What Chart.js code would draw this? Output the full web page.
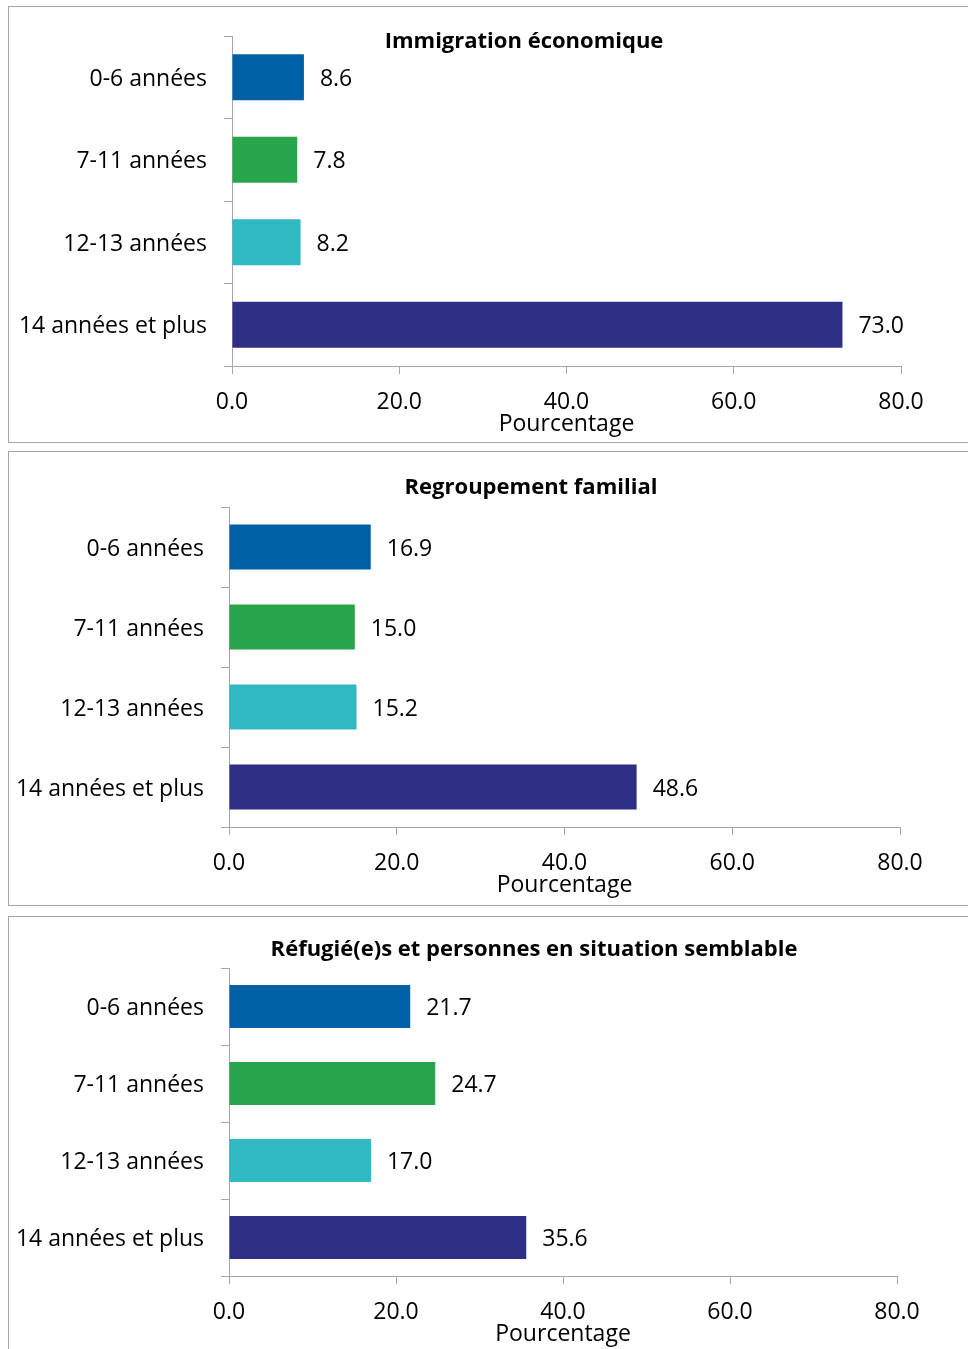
<!DOCTYPE html>
<html>
<head>
<meta charset="utf-8">
<script src="https://cdn.jsdelivr.net/npm/chart.js@4.4.1/dist/chart.umd.min.js"></script>
<style>
html, body { margin: 0; padding: 0; background: #fff; overflow: hidden; }
body { position: relative; width: 968px; height: 1349px; }
.panel { position: absolute; left: 8px; width: 1100px; border: 1.5px solid #a6a6a6; box-sizing: border-box; }
canvas { position: absolute; left: 0; }
</style>
</head>
<body>
<div class="panel" style="top:6px;height:437px"></div>
<div class="panel" style="top:451px;height:455px"></div>
<div class="panel" style="top:916px;height:500px"></div>
<canvas id="c1" width="1040" height="445" style="top:0px"></canvas>
<canvas id="c2" width="1040" height="460" style="top:445px"></canvas>
<canvas id="c3" width="1040" height="444" style="top:905px"></canvas>
<script>
// data
const categories = ['0-6 années', '7-11 années', '12-13 années', '14 années et plus'];
const economique = [8.6, 7.8, 8.2, 73.0];
const familial = [16.9, 15.0, 15.2, 48.6];
const refugies = [21.7, 24.7, 17.0, 35.6];
const xTicks = [0, 20, 40, 60, 80];
const barColors = ['#0060a6', '#28a44b', '#30b8c3', '#2e2f84'];

const FONT = "'Open Sans', sans-serif";
const AXIS = '#a6a6a6';

// value labels + panel title
const labelPlugin = {
    id: 'barLabels',
    afterDatasetsDraw(chart, args, o) {
        const ctx = chart.ctx;
        ctx.save();
        ctx.fillStyle = '#000';
        ctx.font = '23px ' + FONT;
        ctx.textBaseline = 'middle';
        ctx.textAlign = 'left';
        const vals = chart.data.datasets[0].data;
        chart.getDatasetMeta(0).data.forEach((bar, i) => {
            ctx.fillText(vals[i].toFixed(1), bar.x + 16, bar.y + 2);
        });
        ctx.font = 'bold 22px ' + FONT;
        ctx.textAlign = 'center';
        ctx.fillText(o.text, o.x, o.y);
        ctx.restore();
    }
};

function makeChart(id, title, values, pos) {
    const ctx = document.getElementById(id).getContext('2d');
    return new Chart(ctx, {
        type: 'bar',
        data: {
            labels: categories,
            datasets: [{
                data: values,
                backgroundColor: barColors,
                categoryPercentage: 1,
                barPercentage: 0.56
            }]
        },
        options: {
            indexAxis: 'y',
            responsive: false,
            animation: false,
            layout: {
                padding: { left: pos.left, right: pos.right, top: pos.top, bottom: pos.bottom }
            },
            plugins: {
                legend: { display: false },
                tooltip: { enabled: false },
                barLabels: { text: title, x: pos.tx, y: pos.ty }
            },
            scales: {
                x: {
                    min: 0,
                    max: 80,
                    afterBuildTicks: s => { s.ticks = xTicks.map(v => ({ value: v })); },
                    afterFit: s => { s.height = 72; },
                    ticks: {
                        callback: v => Number(v).toFixed(1),
                        padding: 15,
                        color: '#000',
                        font: { family: FONT, size: 23 }
                    },
                    grid: { drawOnChartArea: false, tickLength: 8, color: AXIS },
                    border: { color: AXIS },
                    title: {
                        display: true,
                        text: 'Pourcentage',
                        color: '#000',
                        padding: { top: 0, bottom: 0 },
                        font: { family: FONT, size: 23 }
                    }
                },
                y: {
                    afterFit: s => { s.width = 213; },
                    ticks: {
                        padding: 17,
                        labelOffset: 2,
                        color: '#000',
                        font: { family: FONT, size: 23 }
                    },
                    grid: { drawOnChartArea: false, tickLength: 8, offset: true, color: AXIS },
                    border: { color: AXIS }
                }
            }
        },
        plugins: [labelPlugin]
    });
}

makeChart('c1', 'Immigration économique', economique,
    { left: 19, right: 139, top: 36, bottom: 7, tx: 524, ty: 42 });
makeChart('c2', 'Regroupement familial', familial,
    { left: 16, right: 140, top: 62, bottom: 6, tx: 531, ty: 43 });
makeChart('c3', 'Réfugié(e)s et personnes en situation semblable', refugies,
    { left: 16, right: 143, top: 63, bottom: 1, tx: 534, ty: 45 });
</script>
</body>
</html>
